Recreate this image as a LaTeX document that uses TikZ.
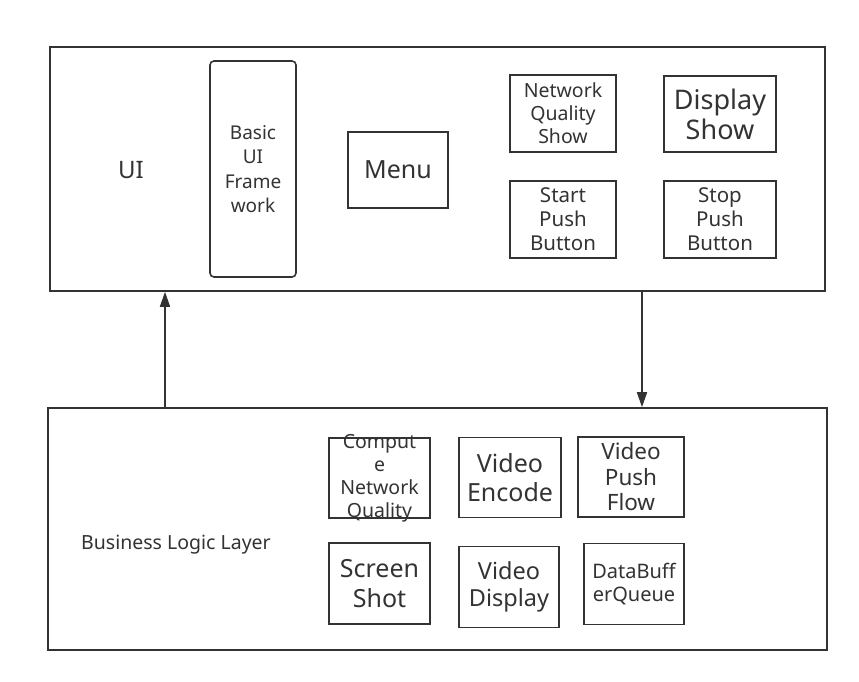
\documentclass[tikz,border=0pt]{standalone}
\usepackage{fontspec}
\setmainfont{Noto Sans}
\usetikzlibrary{arrows.meta}
\definecolor{ink}{HTML}{333333}
\begin{document}
\begin{tikzpicture}[x=1pt,y=-1pt,
  box/.style={draw=ink,line width=1.6pt,inner sep=0pt,align=center,text=ink},
  conn/.style={draw=ink,line width=1.6pt,-{Triangle[length=15pt,width=10pt]}},
  fs/.style={font=\fontsize{#1}{\dimexpr #1pt*47/40\relax}\selectfont}]
\useasboundingbox (0,0) rectangle (859,682);
\fill[white] (0,0) rectangle (859,682);
% outer layers
\node[box,minimum width=775pt,minimum height=244pt] (ui) at (437.5,169) {};
\node[box,minimum width=779pt,minimum height=242pt] (bl) at (437.5,529) {};
\node[fs=24,text=ink] (uit) at (131,170) {UI};
\node[fs=19.5,text=ink] (blt) at (176,545) {Business Logic Layer};
% UI components
\node[box,rounded corners=4pt,minimum width=86pt,minimum height=216pt,font=\fontsize{19}{24.5}\selectfont] (bui) at (253,169) {Basic\\UI\\Frame\\work};
\node[box,minimum width=100pt,minimum height=76pt,fs=25] (menu) at (398,170) {Menu};
\node[box,minimum width=106pt,minimum height=77pt,fs=19.5] (nqs) at (563,113.5) {Network\\Quality\\Show};
\node[box,minimum width=112pt,minimum height=76pt,font=\fontsize{27}{30}\selectfont] (ds) at (720,114) {Display\\Show};
\node[box,minimum width=106pt,minimum height=77pt,fs=20.5] (spb) at (563,219.5) {Start\\Push\\Button};
\node[box,minimum width=112pt,minimum height=77pt,fs=20.5] (stpb) at (720,219.5) {Stop\\Push\\Button};
% business components
\node[box,minimum width=101pt,minimum height=80pt] (cnq) at (379.5,478) {};
\node[fs=19.5,text=ink,align=center,inner sep=0pt] (cnqt) at (379.5,478.5) {Comput\\e\\Network\\Quality};
\node[box,minimum width=102pt,minimum height=80pt,fs=25] (ve) at (510,477.5) {Video\\Encode};
\node[box,minimum width=106pt,minimum height=80pt,font=\fontsize{22.5}{25.5}\selectfont] (vpf) at (631,477) {Video\\Push\\Flow};
\node[box,minimum width=101pt,minimum height=81pt,fs=25] (ss) at (379.5,583.5) {Screen\\Shot};
\node[box,minimum width=100pt,minimum height=81pt,fs=23.5] (vd) at (509,587) {Video\\Display};
\node[box,minimum width=100pt,minimum height=81pt,fs=20] (dbq) at (634,584) {DataBuff\\erQueue};
% connectors
\draw[conn] (bl.north -| 165,0) -- (ui.south -| 165,0);
\draw[conn] (ui.south -| 642,0) -- (bl.north -| 642,0);
\end{tikzpicture}
\end{document}
